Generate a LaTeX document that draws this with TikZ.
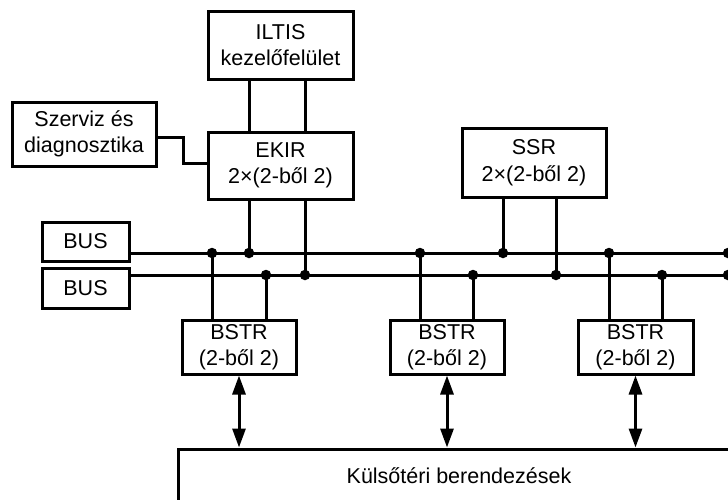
\documentclass[tikz,border=0pt]{standalone}
\usepackage{fontspec}
\setmainfont{Liberation Sans}
\usetikzlibrary{arrows.meta}
\tikzset{
  blk/.style={draw, line width=3pt, inner sep=0pt, align=center,
    font=\fontsize{21.5}{26.5}\selectfont},
  wire/.style={line width=3pt},
  dotj/.style={circle, fill, inner sep=0pt, minimum size=10.5pt},
  biarrow/.style={line width=3pt,
    {Triangle[length=19pt,width=13pt]}-{Triangle[length=19pt,width=13pt]}}
}
\begin{document}
\begin{tikzpicture}[x=1pt,y=-1pt]
\useasboundingbox (0,0) rectangle (728,499);
\clip (0,0) rectangle (728,499);
% boxes
\node[blk, minimum width=145pt, minimum height=68pt] (iltis) at (280.5,45) {ILTIS\\kezelőfelület};
\node[blk, minimum width=145pt, minimum height=67pt] (ekir) at (280.5,165.5) {EKIR\\2×(2-ből 2)};
\node[blk, minimum width=144pt, minimum height=64pt] (szerviz) at (84,134) {Szerviz és\\diagnosztika};
\node[blk, minimum width=144pt, minimum height=69pt] (ssr) at (534,162.5) {SSR\\2×(2-ből 2)};
\node[blk, minimum width=87pt, minimum height=39pt] (bus1) at (85.5,241.5) {BUS};
\node[blk, minimum width=87pt, minimum height=40pt] (bus2) at (85.5,288) {BUS};
\node[blk, minimum width=114pt, minimum height=54pt] (bstr1) at (239,347) {BSTR\\(2-ből 2)};
\node[blk, minimum width=114pt, minimum height=54pt] (bstr2) at (447,347) {BSTR\\(2-ből 2)};
\node[blk, minimum width=115pt, minimum height=54pt] (bstr3) at (635.5,347) {BSTR\\(2-ből 2)};
\node[blk, minimum width=562pt, minimum height=54pt] (kulso) at (459,476) {Külsőtéri berendezések};
% bus line ends
\coordinate (l1) at (728,253);
\coordinate (l2) at (728,275);
\draw[wire] (bus1.east |- l1) -- ([xshift=10pt]l1);
\draw[wire] (bus2.east |- l2) -- ([xshift=10pt]l2);
\node[dotj] (e1) at (l1) {};
\node[dotj] (e2) at (l2) {};
% ILTIS - EKIR
\draw[wire] ([xshift=-31.5pt]iltis.south) -- ([xshift=-31.5pt]ekir.north);
\draw[wire] ([xshift=24.5pt]iltis.south) -- ([xshift=24.5pt]ekir.north);
% Szerviz - EKIR
\coordinate (s1) at (183,137);
\coordinate (s2) at (183,163);
\draw[wire] (szerviz.east |- s1) -- (s1) -- (s2) -- (ekir.west |- s2);
% EKIR - bus
\coordinate (j1) at (249,253);
\coordinate (j2) at (305,275);
\draw[wire] (ekir.south -| j1) -- (j1);
\draw[wire] (ekir.south -| j2) -- (j2);
\node[dotj] at (j1) {};
\node[dotj] at (j2) {};
% SSR - bus
\coordinate (j3) at (503,253);
\coordinate (j4) at (556,275);
\draw[wire] (ssr.south -| j3) -- (j3);
\draw[wire] (ssr.south -| j4) -- (j4);
\node[dotj] at (j3) {};
\node[dotj] at (j4) {};
% BSTR - bus
\foreach \b/\xa/\xb in {bstr1/212/266, bstr2/420/473, bstr3/609/662}{
  \coordinate (ja) at (\xa,253);
  \coordinate (jb) at (\xb,275);
  \draw[wire] (\b.north -| ja) -- (ja);
  \draw[wire] (\b.north -| jb) -- (jb);
  \node[dotj] at (ja) {};
  \node[dotj] at (jb) {};
  \draw[biarrow] (\b.south) -- (\b.south |- kulso.north);
}
\end{tikzpicture}
\end{document}
